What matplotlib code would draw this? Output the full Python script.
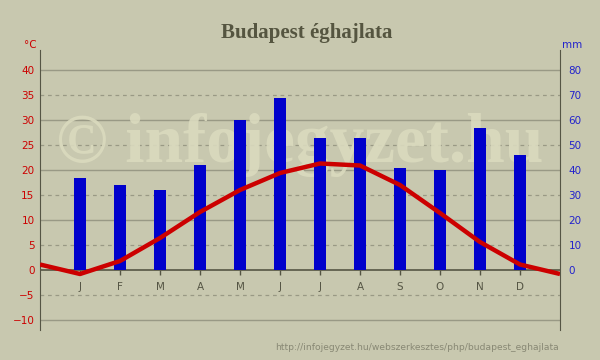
import matplotlib.pyplot as plt
import numpy as np

# Budapest climate: monthly mean temperature (C) and precipitation (mm)
months = ["J", "F", "M", "A", "M", "J", "J", "A", "S", "O", "N", "D"]
temp = [-0.8, 1.8, 6.4, 11.6, 16.0, 19.4, 21.3, 20.9, 17.0, 11.4, 5.6, 1.1]
precip = [37, 34, 32, 42, 60, 69, 53, 53, 41, 40, 57, 46]
temp_ticks = [-10, -5, 0, 5, 10, 15, 20, 25, 30, 35, 40]
precip_ticks = [0, 10, 20, 30, 40, 50, 60, 70, 80]

bg = "#c8c8af"
fig = plt.figure(figsize=(6, 3.6), dpi=100, facecolor=bg)
ax = fig.add_axes([40/600, 30/360, 520/600, 280/360])
ax.set_facecolor(bg)
ax2 = ax.twinx()

x = np.arange(12)
ax.set_xlim(-1, 12)
ax.set_ylim(-12, 44)
ax2.set_ylim(-24, 88)

# grid lines
for t in temp_ticks:
    if t == 0:
        continue
    if t % 10 == 0:
        ax.axhline(t, color="#999985", lw=1, zorder=1)
    else:
        ax.axhline(t, color="#999985", lw=0.9, ls=(0, (3, 3)), zorder=1)

# watermark
ax.text(5.5, 25, "© infojegyzet.hu", ha="center", va="center", family="Liberation Serif",
        fontweight="bold", fontsize=50, color="#dadabe", alpha=0.9, zorder=1)

ax2.bar(x, precip, width=0.28, color="#0000cc", zorder=3)
ax2.set_zorder(ax.get_zorder() + 1)
ax2.patch.set_visible(False)

ax.axhline(0, color="#555544", lw=1.2, zorder=2)
ax.vlines(x, -0.9, 0, color="#555544", lw=1, zorder=2)
for i, m in enumerate(months):
    ax.text(i, -3.4, m, ha="center", va="center", fontsize=7.5, color="#555544")

# temperature line, wrapped around the year
tx = np.arange(-1, 13)
ty = [temp[-1]] + temp + [temp[0]]
ax2.plot(tx, np.array(ty) * 2, color="#cc0000", lw=3.2, solid_capstyle="butt", zorder=4)

for a in (ax, ax2):
    a.spines["top"].set_visible(False)
    a.spines["bottom"].set_visible(False)
    a.spines["left"].set_color("#555544")
    a.spines["right"].set_color("#555544")
    a.set_xticks([])
ax.spines["right"].set_visible(False)
ax2.spines["left"].set_visible(False)

ax.set_yticks(temp_ticks)
ax.tick_params(axis="y", length=0, pad=4, labelsize=7.5, labelcolor="#cc0000")
ax2.set_yticks(precip_ticks)
ax2.tick_params(axis="y", length=0, pad=6, labelsize=7.5, labelcolor="#2222cc")

fig.text(30/600, 1 - 45/360, "°C", ha="center", va="center", fontsize=7.5, color="#cc0000")
fig.text(572/600, 1 - 45/360, "mm", ha="center", va="center", fontsize=7.5, color="#2222cc")
fig.text(307/600, 1 - 33/360, "Budapest éghajlata", ha="center", va="center",
         family="Liberation Serif", fontweight="bold", fontsize=15, color="#555540")
fig.text(559/600, 1 - 347/360, "http://infojegyzet.hu/webszerkesztes/php/budapest_eghajlata",
         ha="right", va="center", fontsize=6.6, color="#888874")

fig.savefig("out.png", dpi=100, facecolor=bg)
